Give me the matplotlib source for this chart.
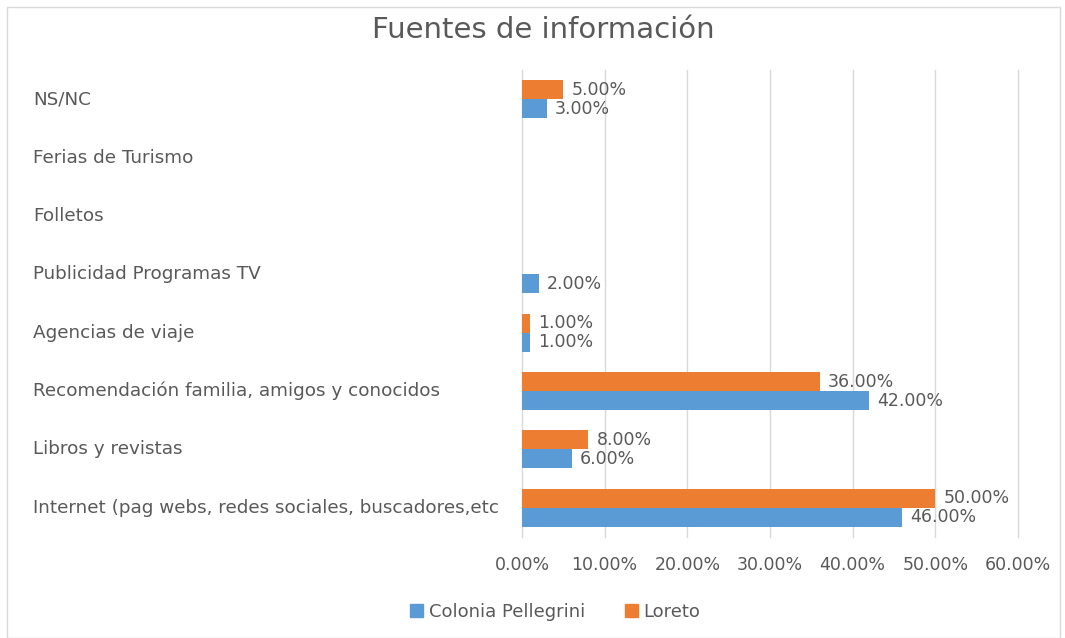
import matplotlib.pyplot as plt
import numpy as np
from matplotlib.patches import Rectangle
from matplotlib.transforms import blended_transform_factory

categories = [
    "Internet (pag webs, redes sociales, buscadores,etc",
    "Libros y revistas",
    "Recomendación familia, amigos y conocidos",
    "Agencias de viaje",
    "Publicidad Programas TV",
    "Folletos",
    "Ferias de Turismo",
    "NS/NC",
]
colonia = [46, 6, 42, 1, 2, None, None, 3]
loreto = [50, 8, 36, 1, None, None, None, 5]
xticks = [0, 10, 20, 30, 40, 50, 60]

blue = "#5B9BD5"
orange = "#ED7D31"
text_color = "#595959"

plt.rcParams["font.family"] = ["DejaVu Sans"]

fig = plt.figure(figsize=(10.65, 6.38), dpi=100)
ax = fig.add_axes([522 / 1065, 1 - 537 / 638, (1018 - 522) / 1065, (537 - 70) / 638])

y = np.arange(len(categories))
h = 0.325


def draw_series(values, offset, color):
    for yi, v in zip(y, values):
        if v is None:
            continue
        ax.barh(yi + offset, v, height=h, color=color)
        ax.text(v + 1.0, yi + offset, f"{v:.2f}%", va="center", ha="left",
                fontsize=12.5, color=text_color)


draw_series(colonia, -h / 2, blue)
draw_series(loreto, h / 2, orange)

ax.set_xlim(0, 60)
ax.set_ylim(-0.5, len(categories) - 0.5)
ax.set_xticks(xticks)
ax.set_xticklabels([f"{t:.2f}%" for t in xticks], fontsize=12.5, color=text_color)
ax.tick_params(axis="x", length=0, pad=14)
ax.set_yticks([])
ax.grid(axis="x", color="#D9D9D9", linewidth=1)
for gl in ax.get_xgridlines():
    gl.set_clip_on(False)
ax.set_axisbelow(True)
for s in ax.spines.values():
    s.set_visible(False)

trans = blended_transform_factory(fig.transFigure, ax.transData)
for yi, c in zip(y, categories):
    ax.text(33 / 1065, yi, c, transform=trans, ha="left", va="center",
            fontsize=13.2, color=text_color)

fig.text(543 / 1065, 1 - 30 / 638, "Fuentes de información", ha="center", va="center",
         fontsize=21, color=text_color)

handles = [Rectangle((0, 0), 1, 1, color=blue), Rectangle((0, 0), 1, 1, color=orange)]
fig.legend(handles, ["Colonia Pellegrini", "Loreto"], loc="center",
           bbox_to_anchor=(555 / 1065, 1 - 612 / 638), ncol=2, frameon=False,
           fontsize=13, labelcolor=text_color, handlelength=0.75, handleheight=0.75,
           handletextpad=0.3, columnspacing=2.2)

fig.patches.append(Rectangle((7 / 1065, 0), 1053 / 1065, 1 - 7 / 638, transform=fig.transFigure,
                             fill=False, edgecolor="#D9D9D9", linewidth=1))

fig.savefig("out.png", dpi=100)
